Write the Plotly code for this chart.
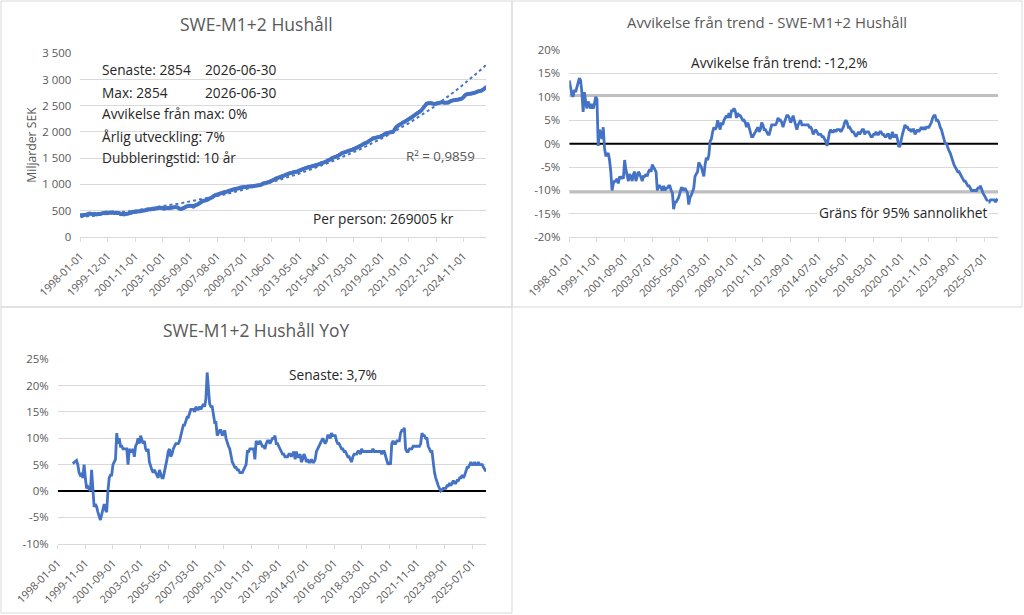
import numpy as np
import pandas as pd
import plotly.graph_objects as go

# monthly observations 1998-01 .. 2026-06
months = pd.date_range("1998-01-01", periods=342, freq="MS").strftime("%Y-%m-%d").tolist()

# SWE-M1+2 households, billion SEK
level = [
    414, 410, 404, 412, 420, 418, 428, 436, 442, 438, 432, 412,
    438, 430, 425, 436, 434, 440, 445, 448, 452, 458, 460, 448,
    458, 462, 456, 468, 455, 452, 458, 456, 452, 446, 428, 438,
    430, 426, 432, 436, 440, 446, 452, 458, 476, 472, 470, 478,
    482, 486, 480, 490, 495, 498, 502, 505, 512, 518, 522, 520,
    528, 532, 530, 538, 542, 545, 556, 552, 550, 554, 535, 540,
    545, 546, 542, 552, 548, 556, 558, 562, 566, 560, 556, 540,
    530, 535, 540, 548, 560, 575, 580, 588, 592, 590, 592, 572,
    590, 598, 610, 620, 640, 650, 665, 680, 684, 690, 700, 705,
    720, 735, 742, 752, 776, 784, 795, 805, 812, 820, 827, 830,
    840, 852, 855, 860, 868, 875, 882, 890, 898, 905, 904, 915,
    920, 922, 935, 938, 942, 945, 948, 950, 955, 958, 956, 960,
    962, 965, 967, 970, 975, 978, 980, 982, 990, 1005, 1018, 1020,
    1025, 1032, 1038, 1050, 1058, 1070, 1080, 1092, 1105, 1114, 1125, 1130,
    1140, 1150, 1160, 1165, 1175, 1185, 1190, 1200, 1209, 1215, 1222, 1228,
    1235, 1238, 1241, 1250, 1262, 1270, 1280, 1292, 1298, 1305, 1315, 1322,
    1330, 1336, 1338, 1345, 1352, 1360, 1368, 1375, 1380, 1388, 1395, 1405,
    1410, 1419, 1425, 1440, 1455, 1464, 1475, 1490, 1500, 1512, 1520, 1527,
    1540, 1552, 1565, 1580, 1595, 1604, 1610, 1615, 1625, 1635, 1642, 1648,
    1655, 1665, 1672, 1685, 1695, 1705, 1718, 1730, 1742, 1755, 1768, 1782,
    1790, 1800, 1815, 1830, 1845, 1860, 1877, 1880, 1890, 1895, 1900, 1905,
    1909, 1920, 1932, 1945, 1960, 1973, 1978, 1985, 1990, 1995, 2000, 2005,
    2040, 2080, 2100, 2115, 2130, 2145, 2160, 2175, 2190, 2200, 2215, 2225,
    2240, 2255, 2270, 2285, 2304, 2320, 2335, 2350, 2365, 2380, 2399, 2420,
    2450, 2480, 2510, 2535, 2545, 2548, 2550, 2545, 2540, 2538, 2533, 2540,
    2545, 2552, 2558, 2560, 2565, 2560, 2555, 2558, 2560, 2558, 2570, 2585,
    2595, 2600, 2605, 2609, 2612, 2615, 2620, 2625, 2628, 2640, 2660, 2690,
    2710, 2720, 2724, 2728, 2730, 2732, 2736, 2740, 2750, 2760, 2770, 2778,
    2782, 2787, 2800, 2815, 2835, 2854,
]

# deviation from trend, %
deviation = [
    13.5, 12.0, 10.5, 10.0, 11.5, 11.0, 12.0, 13.0, 14.0, 13.5, 11.0, 6.8,
    11.0, 9.0, 7.5, 9.0, 8.0, 7.5, 8.5, 7.5, 8.5, 10.0, 9.5, -0.5,
    3.0, 2.0, 1.0, 3.5, -1.0, -2.5, -2.5, -2.0, -3.5, -6.0, -10.0, -8.5,
    -8.0, -8.0, -7.5, -8.5, -7.0, -7.5, -7.0, -7.5, -3.5, -5.5, -6.5, -8.0,
    -6.5, -7.0, -8.0, -6.5, -6.0, -8.0, -7.0, -6.0, -6.5, -7.5, -8.0, -7.0,
    -7.0, -6.5, -7.0, -6.0, -5.5, -6.0, -4.5, -5.0, -5.5, -6.0, -10.0, -9.0,
    -9.0, -9.5, -10.0, -9.0, -10.0, -9.5, -9.5, -9.0, -9.0, -10.0, -10.5, -14.0,
    -12.5, -12.5, -12.0, -11.5, -10.5, -9.5, -9.5, -10.0, -9.5, -10.0, -10.5, -13.0,
    -11.5, -11.0, -10.0, -9.5, -7.0, -6.5, -6.0, -4.0, -4.5, -5.0, -6.0, -7.0,
    -4.5, -3.0, -3.5, -2.5, 0.5, 1.0, 2.5, 3.5, 3.0, 3.5, 5.0, 4.0,
    3.0, 4.5, 4.0, 5.0, 5.5, 6.0, 5.5, 6.5, 5.5, 7.0, 7.0, 7.5,
    7.0, 5.5, 6.5, 6.0, 6.0, 5.5, 5.0, 5.0, 4.5, 3.5, 4.5, 3.5,
    2.5, 1.5, 1.5, 2.0, 2.5, 3.0, 3.5, 2.5, 3.0, 4.5, 4.0, 3.0,
    3.0, 2.5, 2.0, 2.0, 3.0, 4.0, 4.0, 4.0, 4.0, 4.5, 5.5, 5.0,
    5.0, 4.5, 3.5, 4.5, 5.5, 6.0, 6.0, 5.5, 4.5, 5.0, 6.0, 5.0,
    4.0, 3.0, 4.0, 4.5, 5.0, 4.0, 4.0, 4.0, 4.0, 4.0, 4.0, 3.5,
    3.5, 3.0, 2.0, 2.5, 3.0, 2.5, 2.0, 2.0, 2.0, 1.5, 1.5, 1.0,
    0.5, -0.5, 1.5, 2.5, 3.0, 2.5, 2.5, 3.0, 2.5, 3.0, 3.0, 3.0,
    2.5, 3.0, 3.5, 4.5, 5.0, 4.5, 3.5, 3.5, 3.0, 2.5, 2.5, 2.0,
    1.5, 2.0, 2.5, 2.0, 2.5, 3.0, 3.0, 2.0, 2.5, 2.5, 2.5, 2.0,
    1.5, 1.5, 2.0, 2.0, 2.5, 2.0, 2.0, 2.5, 2.5, 2.0, 2.0, 1.5,
    1.5, 2.0, 2.0, 1.0, 1.5, 2.5, 1.5, 1.5, 2.0, 1.0, -0.5, -0.5,
    1.0, 2.0, 3.0, 4.0, 3.5, 3.5, 3.0, 3.0, 2.5, 3.0, 3.0, 2.0,
    2.5, 3.0, 2.5, 3.0, 3.5, 3.0, 3.5, 3.0, 3.5, 3.5, 3.5, 4.0,
    4.5, 5.5, 6.0, 6.0, 5.0, 5.0, 4.5, 3.5, 3.0, 2.0, 1.0, 0.0,
    0.0, -1.0, -1.5, -2.0, -3.0, -4.0, -4.5, -5.0, -5.5, -6.0, -6.0, -6.5,
    -7.0, -7.5, -8.0, -8.0, -8.5, -9.0, -9.0, -9.5, -10.0, -10.0, -10.0, -10.0,
    -10.0, -9.5, -9.5, -9.0, -10.0, -10.5, -11.0, -11.5, -12.0, -12.5, -12.5, -12.0,
    -12.0, -12.0, -12.0, -12.5, -12.0, -12.2,
]

# year-over-year change, % (first year has no comparison)
yoy = [None] * 12 + [
    5.2, 5.4, 5.6, 5.8, 5.0, 3.5, 3.0, 3.2, 2.5, 5.0, 2.5, 0.5,
    0.8, 0.5, 0.0, 4.0, 1.0, -3.0, -2.5, -3.0, -4.0, -5.0, -5.5, -4.5,
    -3.5, -2.5, -3.5, -4.0, 0.0, 2.5, 3.0, 3.0, 5.0, 5.5, 6.0, 11.0,
    9.0, 10.0, 8.5, 8.5, 8.0, 8.0, 8.0, 8.0, 5.0, 8.0, 7.5, 7.5,
    8.0, 6.5, 8.5, 9.0, 10.0, 9.0, 10.5, 9.5, 9.0, 9.5, 8.0, 7.5,
    8.0, 5.5, 4.5, 4.0, 3.5, 4.0, 3.5, 3.0, 2.5, 4.0, 3.0, 2.5,
    2.5, 3.5, 5.0, 6.0, 7.5, 8.0, 6.5, 7.0, 8.0, 8.5, 9.0, 9.0,
    9.0, 9.5, 10.5, 11.0, 12.5, 12.5, 13.5, 14.0, 14.0, 15.0, 15.5, 15.5,
    15.5, 15.0, 16.0, 15.5, 15.5, 16.0, 15.5, 16.0, 16.5, 16.0, 17.5, 22.5,
    19.0, 16.5, 16.0, 16.0, 14.5, 13.0, 13.0, 10.5, 11.0, 11.5, 11.5, 10.5,
    11.0, 11.5, 10.0, 9.0, 8.5, 8.0, 6.5, 5.5, 5.0, 4.5, 4.5, 4.0,
    4.0, 3.5, 3.5, 3.5, 4.0, 4.5, 5.0, 7.5, 7.5, 8.0, 8.0, 8.0,
    8.0, 6.0, 9.5, 9.0, 9.0, 9.5, 9.0, 8.5, 8.5, 8.0, 9.0, 9.5,
    9.5, 9.0, 9.5, 10.0, 10.0, 10.5, 9.0, 9.0, 8.5, 8.0, 7.5, 7.0,
    7.0, 6.5, 6.5, 6.5, 7.0, 7.0, 6.5, 7.0, 7.5, 6.0, 7.5, 6.5,
    6.5, 7.0, 5.5, 6.0, 7.0, 6.5, 5.5, 6.0, 5.5, 5.5, 6.0, 5.5,
    5.5, 6.0, 7.5, 8.0, 8.5, 9.0, 9.5, 10.0, 9.5, 9.0, 9.5, 10.5,
    10.5, 10.0, 11.0, 10.5, 10.5, 10.5, 9.5, 9.0, 9.0, 8.5, 8.0, 8.0,
    7.5, 7.5, 7.0, 6.5, 6.5, 6.0, 5.5, 6.5, 7.0, 7.0, 7.0, 7.5,
    7.5, 7.0, 8.0, 7.5, 7.5, 7.5, 7.5, 7.5, 7.5, 7.5, 7.5, 8.0,
    7.5, 7.5, 7.5, 7.5, 7.5, 7.5, 7.0, 7.5, 7.5, 6.5, 6.0, 5.0,
    5.5, 5.0, 9.0, 9.5, 9.0, 9.0, 9.5, 9.5, 9.5, 11.0, 11.5, 11.5,
    12.0, 8.0, 7.5, 7.5, 8.0, 8.0, 8.0, 8.5, 8.5, 8.5, 8.5, 8.5,
    8.5, 9.0, 11.0, 10.5, 10.5, 10.0, 10.0, 8.5, 8.0, 7.5, 7.5, 5.0,
    3.5, 2.5, 1.5, 1.0, 0.5, 0.0, 0.2, 0.5, 0.5, 0.5, 1.0, 1.0,
    1.5, 1.0, 1.5, 2.0, 1.5, 1.5, 2.0, 2.0, 2.5, 2.5, 3.0, 2.5,
    3.0, 4.0, 4.5, 4.5, 5.0, 5.5, 5.0, 5.0, 5.5, 5.0, 5.0, 5.5,
    5.0, 5.0, 5.0, 4.5, 4.0, 3.7,
]

band_95 = 10.3  # limit for 95% probability, %

ticks_level = ["1998-01-01", "1999-12-01", "2001-11-01", "2003-10-01", "2005-09-01",
               "2007-08-01", "2009-07-01", "2011-06-01", "2013-05-01", "2015-04-01",
               "2017-03-01", "2019-02-01", "2021-01-01", "2022-12-01", "2024-11-01"]
ticks_pct = ["1998-01-01", "1999-11-01", "2001-09-01", "2003-07-01", "2005-05-01",
             "2007-03-01", "2009-01-01", "2010-11-01", "2012-09-01", "2014-07-01",
             "2016-05-01", "2018-03-01", "2020-01-01", "2021-11-01", "2023-09-01",
             "2025-07-01"]

level_yticks = [0, 500, 1000, 1500, 2000, 2500, 3000, 3500]
level_ytext = ["0", "500", "1 000", "1 500", "2 000", "2 500", "3 000", "3 500"]
dev_yticks = [-20, -15, -10, -5, 0, 5, 10, 15, 20]
yoy_yticks = [-10, -5, 0, 5, 10, 15, 20, 25]

# exponential trendline, like the spreadsheet one
t = np.arange(len(level))
coef = np.polyfit(t, np.log(level), 1)
trend = np.exp(np.polyval(coef, t))

W, H = 1024, 615
BLUE = "#4472C4"
GRID = "#D9D9D9"
GREY_TXT = "#595959"
FONT = "Open Sans"
TXT = 13.7


def px(x):
    return x / W


def py(y):
    return 1 - y / H


fig = go.Figure()

fig.add_trace(go.Scatter(x=months, y=level, mode="lines+markers", xaxis="x", yaxis="y",
                         line=dict(color=BLUE, width=2.6), marker=dict(color=BLUE, size=4)))
fig.add_trace(go.Scatter(x=months, y=trend.tolist(), mode="lines", xaxis="x", yaxis="y",
                         line=dict(color=BLUE, width=2, dash="dot")))

first, last = months[0], months[-1]
for v, col, w in [(band_95, "#BFBFBF", 3), (-band_95, "#BFBFBF", 3), (0, "black", 2)]:
    fig.add_trace(go.Scatter(x=[first, last], y=[v, v], mode="lines", xaxis="x2", yaxis="y2",
                             line=dict(color=col, width=w)))
fig.add_trace(go.Scatter(x=months, y=deviation, mode="lines", xaxis="x2", yaxis="y2",
                         line=dict(color=BLUE, width=2.8)))

fig.add_trace(go.Scatter(x=[first, last], y=[0, 0], mode="lines", xaxis="x3", yaxis="y3",
                         line=dict(color="black", width=2)))
fig.add_trace(go.Scatter(x=months, y=yoy, mode="lines", xaxis="x3", yaxis="y3",
                         line=dict(color=BLUE, width=2.8)))

xcommon = dict(type="category", categoryorder="array", categoryarray=months,
               range=[0, len(months) - 1], showgrid=False, automargin=False,
               showline=True, linecolor=GRID, ticks="outside", ticklen=4, tickcolor=GRID,
               ticklabelstandoff=4, tickangle=-45,
               tickfont=dict(size=10.8, color=GREY_TXT, family=FONT))
ycommon = dict(showgrid=True, gridcolor=GRID, gridwidth=1, zeroline=False, showline=False,
               ticks="", automargin=False, ticklabelstandoff=8,
               tickfont=dict(size=11.4, color=GREY_TXT, family=FONT))

fig.update_layout(
    xaxis=dict(domain=[px(80.3), px(486)], anchor="y", tickvals=ticks_level,
               ticktext=ticks_level, **xcommon),
    yaxis=dict(domain=[py(236.7), py(53.3)], anchor="x", range=[0, 3500],
               tickvals=level_yticks, ticktext=level_ytext,
               title=dict(text="Miljarder SEK", standoff=3,
                          font=dict(size=12.2, color=GREY_TXT, family=FONT)), **ycommon),
    xaxis2=dict(domain=[px(569.3), px(998)], anchor="y2", tickvals=ticks_pct,
                ticktext=ticks_pct, **xcommon),
    yaxis2=dict(domain=[py(237.3), py(50)], anchor="x2", range=[-20, 20],
                tickvals=dev_yticks, ticktext=[f"{v}%" for v in dev_yticks], **ycommon),
    xaxis3=dict(domain=[px(57.7), px(486)], anchor="y3", tickvals=ticks_pct,
                ticktext=ticks_pct, **xcommon),
    yaxis3=dict(domain=[py(543.7), py(359.3)], anchor="x3", range=[-10, 25],
                tickvals=yoy_yticks, ticktext=[f"{v}%" for v in yoy_yticks], **ycommon),
)

annotations = []


def note(text, x, y, size=TXT, color="#262626", anchor="left", bg=None):
    d = dict(text=text, x=px(x), y=py(y), xref="paper", yref="paper", showarrow=False,
             xanchor=anchor, yanchor="middle", font=dict(size=size, color=color, family=FONT))
    if bg:
        d["bgcolor"] = bg
    annotations.append(d)


# titles
note("SWE-M1+2 Hushåll", 256, 24, size=17.5, color=GREY_TXT, anchor="center")
note("Avvikelse från trend - SWE-M1+2 Hushåll", 767, 22, size=14.9, color=GREY_TXT, anchor="center")
note("SWE-M1+2 Hushåll YoY", 256, 330, size=17.4, color=GREY_TXT, anchor="center")

# text boxes, level chart
note("Senaste: 2854", 100, 70)
note("2026-06-30", 203, 70)
note("Max: 2854", 100, 92)
note("2026-06-30", 203, 92)
note("Avvikelse från max: 0%", 100, 114)
note("Årlig utveckling: 7%", 100, 136)
note("Dubbleringstid: 10 år", 100, 158)
note("R² = 0,9859", 477, 156, size=13.3, color=GREY_TXT, anchor="right")
note("Per person: 269005 kr", 311, 218)

# deviation chart
note("Avvikelse från trend: -12,2%", 689, 62)
note("Gräns för 95% sannolikhet", 989, 212, anchor="right", bg="white")

# yoy chart
note("Senaste: 3,7%", 287, 374)

shapes = []
for x0, y0, x1, y1 in [(1, 1, 512, 307), (512, 1, 1022, 307), (1, 307, 512, 613)]:
    shapes.append(dict(type="rect", xref="paper", yref="paper", x0=px(x0), x1=px(x1),
                       y0=py(y1), y1=py(y0), line=dict(color=GRID, width=1)))

fig.update_layout(
    width=W, height=H, margin=dict(l=0, r=0, t=0, b=0, autoexpand=False),
    paper_bgcolor="white", plot_bgcolor="white", showlegend=False,
    font=dict(family=FONT), annotations=annotations, shapes=shapes,
)

# drop the default page margin so the figure sits at the window's corner
fig.write_html("out.html", config={"displayModeBar": False},
               post_script="document.body.style.margin = '0';")
